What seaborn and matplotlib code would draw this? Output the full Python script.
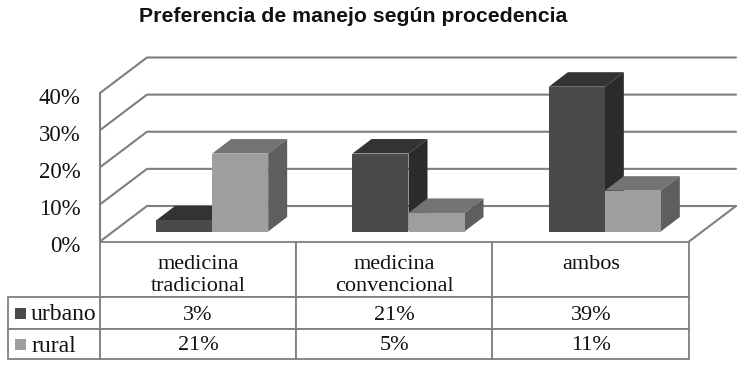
import pandas as pd
import seaborn as sns
import matplotlib.pyplot as plt
from matplotlib.patches import Polygon, Rectangle
from matplotlib.transforms import ScaledTranslation

# Data
categories = ['medicina\ntradicional', 'medicina\nconvencional', 'ambos\n']
series = ['urbano', 'rural']
urbano = [3, 21, 39]
rural = [21, 5, 11]
y_ticks = [0, 10, 20, 30, 40]

# front, top, side shades for the fake 3D look
shades = {'urbano': ('#4a4a4a', '#333333', '#2b2b2b'),
          'rural': ('#9e9e9e', '#737373', '#5e5e5e')}
line_color = '#7f7f7f'
text_color = '#111111'

W, H = 750, 371
sns.set_style('white')
plt.rcParams['font.family'] = ['Liberation Serif', 'DejaVu Serif']


def px_axes(fig, left, right, top, bottom):
    return fig.add_axes([left / W, 1 - bottom / H, (right - left) / W, (bottom - top) / H])


df = pd.DataFrame({
    'categoria': categories * 2,
    'serie': ['urbano'] * 3 + ['rural'] * 3,
    'valor': urbano + rural,
})

fig = plt.figure(figsize=(W / 100, H / 100), dpi=100)
fig.text(353.5 / W, 1 - 16.5 / H, 'Preferencia de manejo según procedencia', ha='center', va='center',
         fontsize=15.3, fontweight='bold', family='Liberation Sans', color=text_color)

# Wall axes: the 3D box, y ticks and table
ax = px_axes(fig, 100, 689, 93, 241.5)
ax.set_xlim(-0.5, 2.5)
ax.set_ylim(0, 40)
sns.despine(ax=ax, left=True, bottom=True)
ax.set_xticks([])
ax.set_yticks(y_ticks)
ax.set_yticklabels([f'{t}%' for t in y_ticks], fontsize=16.5, color=text_color)
ax.tick_params(axis='y', length=0, pad=14)
shift = ScaledTranslation(0, -2.5 / 100, fig.dpi_scale_trans)
for lab in ax.get_yticklabels():
    lab.set_transform(lab.get_transform() + shift)

px_x = 3 / 589
px_y = 40 / 148.5
wall_dx, wall_dy = 47 * px_x, 35.5 * px_y
for t in y_ticks:
    ax.plot([-0.5, -0.5 + wall_dx, 2.5 + wall_dx], [t, t + wall_dy, t + wall_dy],
            color=line_color, lw=1.5, clip_on=False, solid_joinstyle='miter')
ax.plot([-0.5, -0.5], [0, 40], color=line_color, lw=1.5, clip_on=False)
ax.plot([2.5, 2.5 + wall_dx], [0, wall_dy], color=line_color, lw=1.5, clip_on=False)

# Table under the chart, the text goes on top so it can sit like the original
col_widths = [92 / 589, 196 / 589, 196 / 589, 197 / 589]
table = ax.table(cellText=[[''] * 4] * 3, colWidths=col_widths,
                 bbox=[-92 / 589, (241.5 - 359) / 148.5, 681 / 589, 117.5 / 148.5])
row_heights = [55.5, 31.5, 30.5]
for (r, c), cell in table.get_celld().items():
    cell.set_height(row_heights[r] / 117.5)
    cell.set_edgecolor(line_color)
    cell.set_linewidth(1.3)
    if r == 0 and c == 0:
        cell.visible_edges = ''


def table_text(x, y_px, s, **kw):
    ax.text(x, (241.5 - y_px) * px_y, s, va='center', fontsize=16, color=text_color, clip_on=False, **kw)


for i, cat in enumerate(categories):
    table_text(i, 275.5, cat, ha='center', linespacing=1.15)
for i in range(3):
    table_text(i, 315.5, f'{urbano[i]}%', ha='center')
    table_text(i, 346, f'{rural[i]}%', ha='center')

# Legend keys and names in the table
for name, y in zip(series, [307.5, 339]):
    fig.add_artist(Rectangle((15 / W, 1 - (y + 11) / H), 11 / W, 11 / H, transform=fig.transFigure,
                             facecolor=shades[name][0], edgecolor='none'))
    ax.text(-0.5 - 69 * px_x, (241.5 - y - 7) * px_y, name, va='center', ha='left', fontsize=17,
            color=text_color, clip_on=False)

# Bars, shifted in from the front floor edge
ax_bars = px_axes(fig, 114, 703, 83, 231.5)
ax_bars.patch.set_alpha(0)
sns.barplot(data=df, x='categoria', y='valor', hue='serie', hue_order=series,
            palette={k: v[0] for k, v in shades.items()}, saturation=1, width=0.5705,
            gap=0, legend=False, linewidth=0, ax=ax_bars)
ax_bars.set_xlim(-0.5, 2.5)
ax_bars.set_ylim(0, 40)
ax_bars.axis('off')

depth_x, depth_y = 19 * px_x, 14.5 * px_y
for z, (name, bars) in enumerate(zip(series, ax_bars.containers)):
    for bar in bars:
        x0, w, h = bar.get_x(), bar.get_width(), bar.get_height()
        x1 = x0 + w
        bar.set_zorder(3 + z * 2)
        bar.set_clip_on(False)
        bar.set_edgecolor('none')
        ax_bars.add_patch(Polygon([(x0, h), (x1, h), (x1 + depth_x, h + depth_y), (x0 + depth_x, h + depth_y)],
                                  facecolor=shades[name][1], edgecolor='none', zorder=2 + z * 2, clip_on=False))
        ax_bars.add_patch(Polygon([(x1, 0), (x1, h), (x1 + depth_x, h + depth_y), (x1 + depth_x, depth_y)],
                                  facecolor=shades[name][2], edgecolor='none', zorder=2 + z * 2, clip_on=False))

plt.savefig('out.png', dpi=100)
